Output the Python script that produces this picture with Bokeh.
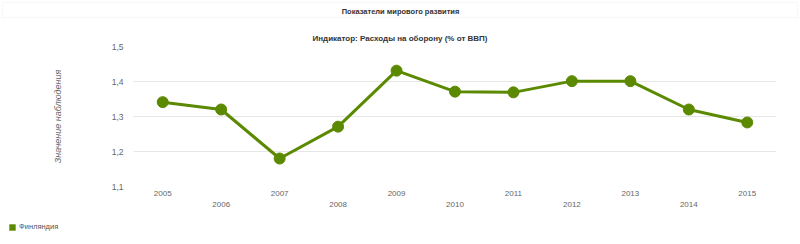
from bokeh.plotting import figure
from bokeh.models import (Range1d, FixedTicker, LinearAxis, Legend, LegendItem,
                          Label, BoxAnnotation, ColumnDataSource)
from bokeh.embed import file_html
from bokeh.resources import INLINE

years = [2005, 2006, 2007, 2008, 2009, 2010, 2011, 2012, 2013, 2014, 2015]
values = [1.341, 1.320, 1.180, 1.271, 1.431, 1.371, 1.369, 1.401, 1.401, 1.320, 1.283]
y_ticks = [1.1, 1.2, 1.3, 1.4, 1.5]
y_tick_labels = ["1,1", "1,2", "1,3", "1,4", "1,5"]
series_name = "Финляндия"
title_text = "Показатели мирового развития"
subtitle_text = "Индикатор: Расходы на оборону (% от ВВП)"
y_title = "Значение наблюдения"

GREEN = "#5b8a00"
FONT = "Liberation Sans"


def bare_figure(height):
    f = figure(width=800, height=height, output_backend="svg", toolbar_location=None,
               x_axis_type=None, y_axis_type=None, min_border=0,
               x_range=Range1d(0, 1), y_range=Range1d(0, 1))
    f.outline_line_color = None
    f.grid.visible = False
    f.background_fill_color = "white"
    f.border_fill_color = "white"
    return f


# ---- header ----
head = bare_figure(24)
head.add_layout(BoxAnnotation(left=2, right=797, top=22, bottom=7,
                              left_units="screen", right_units="screen",
                              top_units="screen", bottom_units="screen",
                              fill_alpha=0, line_color="#e6e6e6", line_width=1))
head.add_layout(Label(x=400, y=13.5, x_units="screen", y_units="screen", text=title_text,
                      text_align="center", text_baseline="middle", text_font=FONT,
                      text_font_style="bold", text_font_size="7.5px", text_color="#333333"))

# ---- main chart ----
p = figure(width=800, height=191, output_backend="svg", toolbar_location=None,
           x_range=Range1d(2004.5, 2015.5), y_range=Range1d(1.1, 1.5),
           x_axis_type=None, min_border_left=133, min_border_right=24,
           min_border_top=22, min_border_bottom=29)
p.outline_line_color = None
p.background_fill_color = "white"
p.border_fill_color = "white"

p.title.text = subtitle_text
p.title.align = "left"
p.title.offset = 179
p.title.text_font = FONT
p.title.text_font_style = "bold"
p.title.text_font_size = "8px"
p.title.text_color = "#333333"
p.title.standoff = 8

p.yaxis.ticker = FixedTicker(ticks=y_ticks)
p.yaxis.major_label_overrides = {t: l for t, l in zip(y_ticks, y_tick_labels)}
p.yaxis.axis_line_color = None
p.yaxis.major_tick_line_color = None
p.yaxis.minor_tick_line_color = None
p.yaxis.major_tick_out = 0
p.yaxis.major_tick_in = 0
p.yaxis.major_label_text_color = "#666666"
p.yaxis.major_label_text_font = FONT
p.yaxis.major_label_text_font_size = "8.5px"
p.yaxis.major_label_standoff = 10
p.yaxis.axis_label = y_title
p.yaxis.axis_label_text_font = FONT
p.yaxis.axis_label_text_font_style = "italic"
p.yaxis.axis_label_text_font_size = "9px"
p.yaxis.axis_label_text_color = "#666666"
p.yaxis.axis_label_standoff = 46
p.ygrid.grid_line_color = "#e6e6e6"
p.ygrid.ticker = FixedTicker(ticks=y_ticks)

odd = years[0::2]
even = years[1::2]
for ticks, standoff in ((odd, 4), (even, 3)):
    ax = LinearAxis(ticker=FixedTicker(ticks=ticks))
    ax.axis_line_color = None
    ax.major_tick_line_color = None
    ax.minor_tick_line_color = None
    ax.major_tick_out = 0
    ax.major_tick_in = 0
    ax.major_label_standoff = standoff
    ax.major_label_text_color = "#666666"
    ax.major_label_text_font = FONT
    ax.major_label_text_font_size = "8px"
    p.add_layout(ax, "below")

src = ColumnDataSource(dict(x=years, y=values))
p.line("x", "y", source=src, line_color=GREEN, line_width=3)
p.scatter("x", "y", source=src, size=11, fill_color=GREEN, line_color=GREEN)

# ---- legend strip ----
foot = bare_figure(29)
# a swatch renderer whose point lies outside this strip's range; only its legend glyph shows
leg_r = foot.rect(x=years[:1], y=values[:1], width=1, height=1,
                  fill_color=GREEN, line_color=None)
legend = Legend(items=[LegendItem(label=series_name, renderers=[leg_r])],
                location=(8, 13), orientation="horizontal",
                border_line_color=None, background_fill_alpha=0,
                padding=0, margin=0, glyph_width=8, glyph_height=8,
                label_height=8, label_width=10,
                label_text_font=FONT, label_text_font_size="7.5px",
                label_text_color="#555555", label_standoff=3)
foot.add_layout(legend, "center")

open("out.html", "w").write(file_html([head, p, foot], INLINE))
